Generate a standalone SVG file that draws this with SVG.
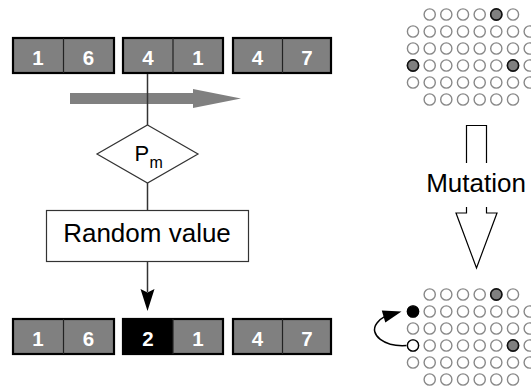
<svg xmlns="http://www.w3.org/2000/svg" width="531" height="392" viewBox="0 0 531 392">
<style>
.cell{fill:#808080;stroke:none}
.blk{fill:none;stroke:#000;stroke-width:2.2}
.div{stroke:#222;stroke-width:1.2}
.dg{font-family:"Liberation Sans",Arial,sans-serif;font-weight:bold;font-size:20.5px;fill:#fff;text-anchor:middle}
.lbl{font-family:"Liberation Sans",Arial,sans-serif;font-size:26px;fill:#000;text-anchor:middle}
.c{fill:#fff;stroke:#888;stroke-width:1.4}
.cg{fill:#808080;stroke:#111;stroke-width:1.6}
.cb{fill:#000;stroke:#000;stroke-width:1.4}
.cw{fill:#fff;stroke:#000;stroke-width:1.4}
.ln{stroke:#333;stroke-width:1.5;fill:none}
</style>
<defs>
<g id="row6">
<circle class="c" cx="429.7" cy="0" r="5.6"/><circle class="c" cx="446.3" cy="0" r="5.6"/><circle class="c" cx="463" cy="0" r="5.6"/><circle class="c" cx="479.7" cy="0" r="5.6"/><circle class="c" cx="496.3" cy="0" r="5.6"/><circle class="c" cx="513" cy="0" r="5.6"/>
</g>
<g id="row8">
<circle class="c" cx="413" cy="0" r="5.6"/><use href="#row6"/><circle class="c" cx="529.7" cy="0" r="5.6"/>
</g>
</defs>

<g id="top-chromosome">
<rect class="cell" x="13" y="38" width="101" height="35"/>
<rect class="cell" x="123" y="38" width="100" height="35"/>
<rect class="cell" x="233" y="38" width="98" height="35"/>
<rect class="blk" x="13" y="38" width="101" height="35"/>
<rect class="blk" x="123" y="38" width="100" height="35"/>
<rect class="blk" x="233" y="38" width="98" height="35"/>
<line class="div" x1="63.5" y1="38" x2="63.5" y2="73"/>
<line class="div" x1="173" y1="38" x2="173" y2="73"/>
<line class="div" x1="282.5" y1="38" x2="282.5" y2="73"/>
<text class="dg" x="38" y="65">1</text>
<text class="dg" x="88.5" y="65">6</text>
<text class="dg" x="148" y="65">4</text>
<text class="dg" x="198" y="65">1</text>
<text class="dg" x="257.5" y="65">4</text>
<text class="dg" x="307" y="65">7</text>
</g>

<g id="scan-arrow">
<polygon fill="#808080" points="70,93 193,93 193,89 241,98.5 193,108 193,104 70,104"/>
</g>

<g id="connectors">
<line class="ln" x1="147.5" y1="74" x2="147.5" y2="125"/>
<line class="ln" x1="147.5" y1="183" x2="147.5" y2="210"/>
<line class="ln" x1="147.5" y1="262" x2="147.5" y2="292"/>
<polygon fill="#000" points="140.5,289 147.5,292.5 154.5,289 147.5,311"/>
<path d="M406.5,345.5 C385,347 368,335 377,323 C379,320 382,318 385,316.4" fill="none" stroke="#000" stroke-width="1.5"/>
<polygon fill="#000" points="401.5,311.5 385.3,322.4 381.8,310.4"/>
</g>

<g id="pm">
<polygon points="147.5,125 198,154 147.5,183 97,154" fill="#fff" stroke="#333" stroke-width="1.2"/>
<text x="134.5" y="161" font-family="'Liberation Sans',Arial,sans-serif" font-size="22" fill="#000">P</text>
<text x="149.5" y="168" font-family="'Liberation Sans',Arial,sans-serif" font-size="16" fill="#000">m</text>
</g>

<g id="random-value">
<rect x="46.5" y="210.5" width="202" height="51" fill="#fff" stroke="#333" stroke-width="1.2"/>
<text class="lbl" x="147" y="242">Random value</text>
</g>

<g id="bottom-chromosome">
<rect class="cell" x="13" y="319" width="101" height="35"/>
<rect fill="#000" x="123" y="319" width="50" height="35"/>
<rect class="cell" x="173" y="319" width="50" height="35"/>
<rect class="cell" x="233" y="319" width="98" height="35"/>
<rect class="blk" x="13" y="319" width="101" height="35"/>
<rect class="blk" x="123" y="319" width="100" height="35"/>
<rect class="blk" x="233" y="319" width="98" height="35"/>
<line class="div" x1="63.5" y1="319" x2="63.5" y2="354"/>
<line class="div" x1="173" y1="319" x2="173" y2="354"/>
<line class="div" x1="282.5" y1="319" x2="282.5" y2="354"/>
<text class="dg" x="38" y="346">1</text>
<text class="dg" x="88.5" y="346">6</text>
<text class="dg" x="148" y="346">2</text>
<text class="dg" x="198" y="346">1</text>
<text class="dg" x="257.5" y="346">4</text>
<text class="dg" x="307" y="346">7</text>
</g>

<g id="grid-before">
<use href="#row6" y="14.5"/>
<use href="#row8" y="31.5"/>
<use href="#row8" y="48.5"/>
<use href="#row8" y="65.5"/>
<use href="#row8" y="82.5"/>
<use href="#row6" y="99.5"/>
<circle class="cg" cx="496.3" cy="14.5" r="5.6"/>
<circle class="cg" cx="413" cy="65.5" r="5.6"/>
<circle class="cg" cx="513" cy="65.5" r="5.6"/>
</g>

<g id="mutation">
<path d="M466.5,163 V125.5 H486.5 V163" fill="none" stroke="#000" stroke-width="1.2"/>
<path d="M466.5,207 V213 H456 L476.5,268 L497,213 H486.5 V207" fill="#fff" stroke="#000" stroke-width="1.2"/>
<text class="lbl" x="476" y="192">Mutation</text>
</g>

<g id="grid-after">
<use href="#row6" y="294.5"/>
<use href="#row8" y="311.5"/>
<use href="#row8" y="328.5"/>
<use href="#row8" y="345.5"/>
<use href="#row8" y="362.5"/>
<use href="#row6" y="379.5"/>
<circle class="cg" cx="496.3" cy="294.5" r="5.6"/>
<circle class="cb" cx="413" cy="311.5" r="5.6"/>
<circle class="cw" cx="413" cy="345.5" r="5.6"/>
<circle class="cg" cx="513" cy="345.5" r="5.6"/>
</g>
</svg>
